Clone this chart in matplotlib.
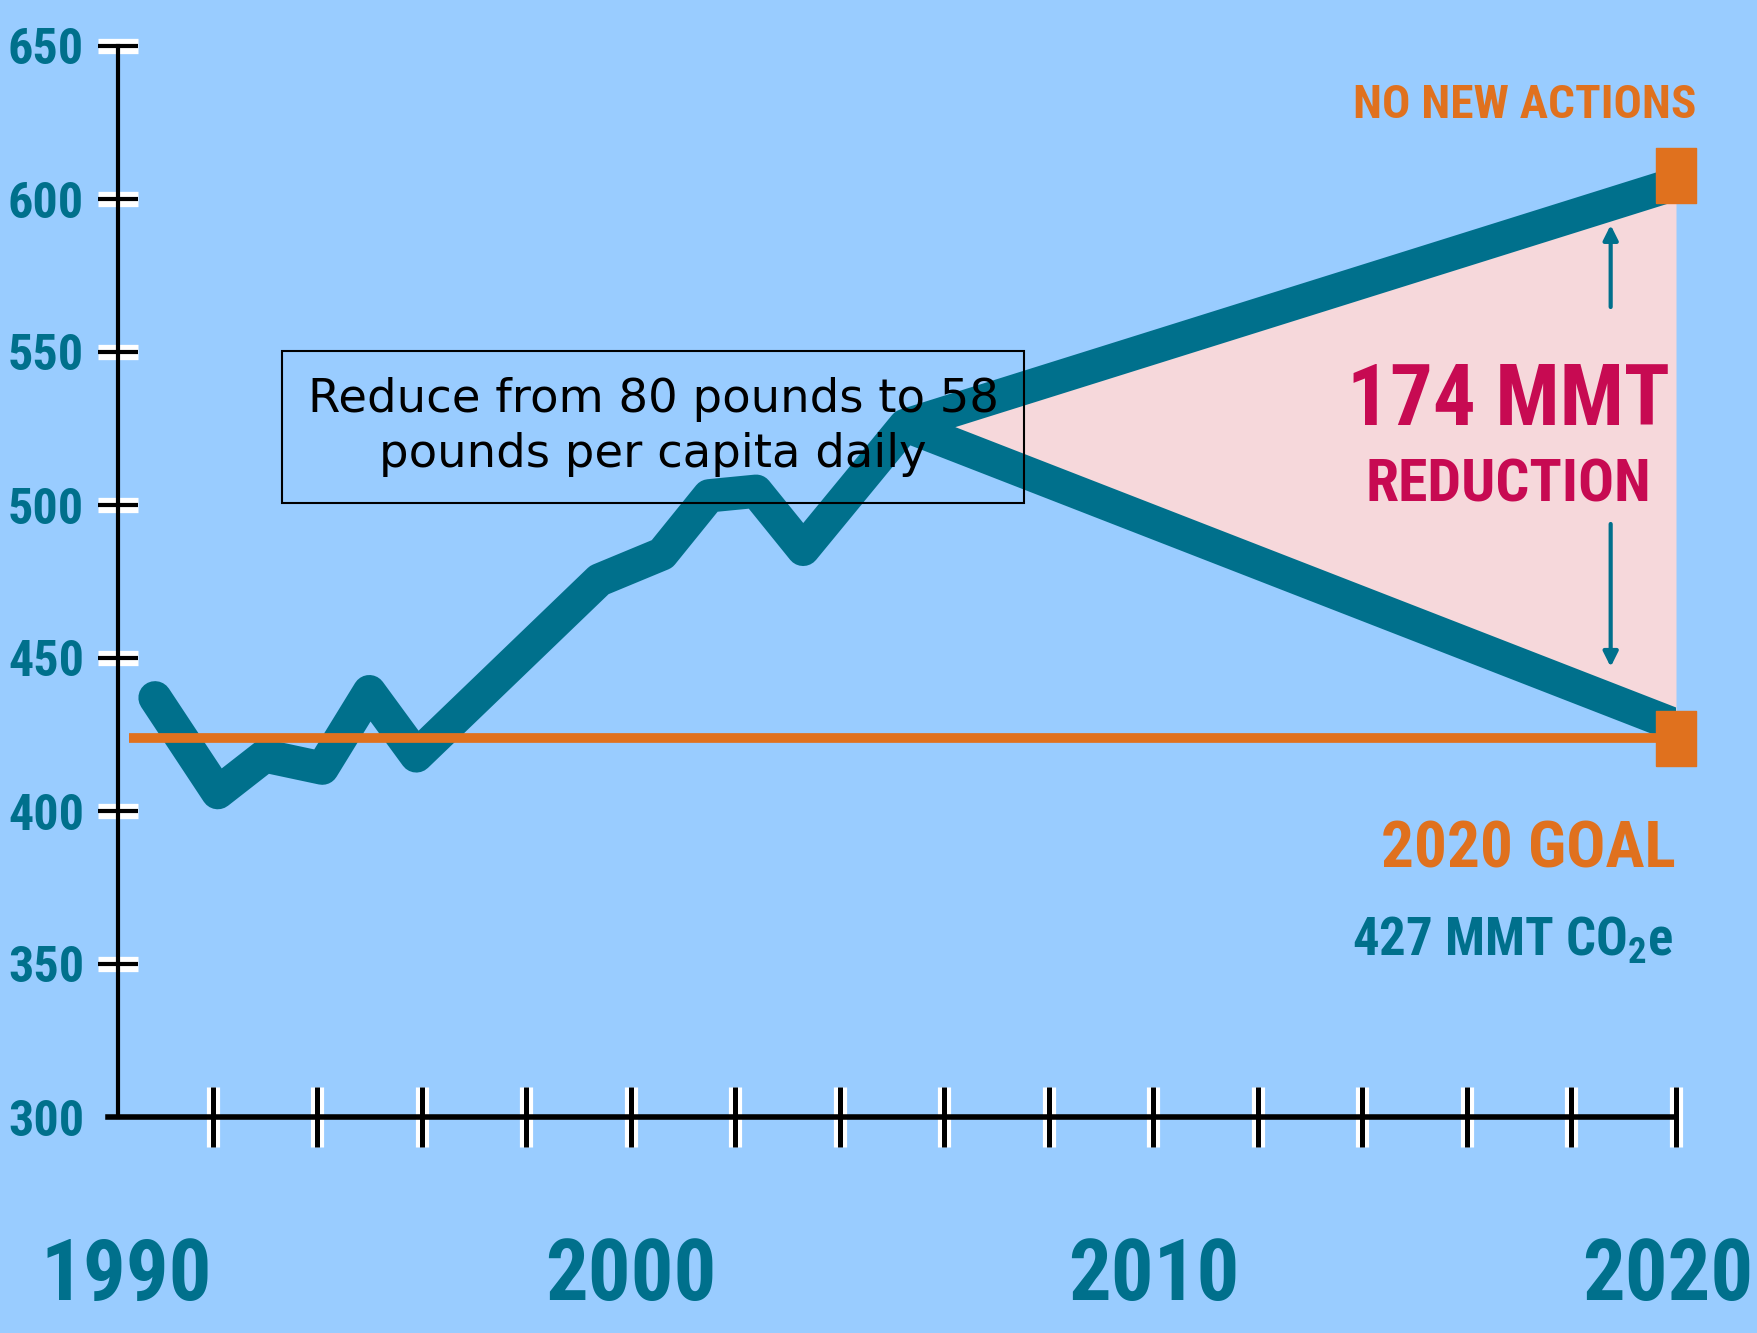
import matplotlib
matplotlib.use("Agg")
import matplotlib.pyplot as plt
from matplotlib import font_manager as fm
from matplotlib import transforms
import numpy as np

# colours
BG = "#99CCFF"
TEAL = "#00708C"
ORANGE = "#E0711E"
PINK = "#F6D8DB"
CRIMSON = "#C70A52"

# pick a narrow bold face for the poster-style lettering
names = {f.name for f in fm.fontManager.ttflist}
COND = "DejaVu Sans"
for cand in ["Roboto Condensed", "Liberation Sans Narrow", "Open Sans Condensed", "DejaVu Sans Condensed"]:
    if cand in names:
        COND = cand
        break
plt.rcParams["mathtext.default"] = "regular"

# data (MMT CO2e)
hist_years = [1990.9, 1992.1, 1993.0, 1994.1, 1995.0, 1995.9, 1999.4,
              2000.6, 2001.5, 2002.4, 2003.3, 2005.25]
hist_vals = [437, 406, 418, 414, 439, 418, 475.5, 484, 503, 504.5, 485.5, 526]
proj_years = [2005.25, 2020]
no_action_vals = [526, 605]
goal_path_vals = [526, 428]
goal_value = 424
goal_line_years = [1990.4, 2020]
marker_vals = [608, 424]

y_ticks = [300, 350, 400, 450, 500, 550, 600, 650]
x_ticks = list(range(1990, 2021, 2))
decades = [1990, 2000, 2010, 2020]

fig = plt.figure(figsize=(17.58, 13.33), dpi=100, facecolor=BG)
ax = fig.add_axes([108/1758, (1333-1117)/1333, (1676-108)/1758, (1117-46)/1333])
ax.set_facecolor(BG)
ax.set_xlim(1990, 2020)
ax.set_ylim(300, 650)
ax.set_axisbelow(False)

# shaded gap between the two projections
ax.fill_between(proj_years, goal_path_vals, no_action_vals, color=PINK, lw=0, zorder=1)

lw = 24
ax.plot(hist_years + proj_years[1:], hist_vals + no_action_vals[1:], color=TEAL, lw=lw,
        solid_joinstyle="round", solid_capstyle="round", zorder=2)
ax.plot(proj_years, goal_path_vals, color=TEAL, lw=lw,
        solid_joinstyle="round", solid_capstyle="butt", zorder=2)
ax.plot(goal_line_years, [goal_value + 0.9, goal_value + 0.9], color="#AEB4C4", lw=2.5,
        solid_capstyle="butt", zorder=3)
ax.plot(goal_line_years, [goal_value, goal_value], color=ORANGE, lw=7,
        solid_capstyle="butt", zorder=3)

rect = [(-0.71, -1), (0.71, -1), (0.71, 1), (-0.71, 1), (-0.71, -1)]
ax.plot([2020, 2020], marker_vals, ls="none", marker=rect, ms=39.6,
        color=ORANGE, mec=ORANGE, zorder=4, clip_on=False)

# axes lines
for s in ["top", "right"]:
    ax.spines[s].set_visible(False)
ax.spines["left"].set_position(("data", 1990.2))
ax.spines["left"].set_bounds(300, 650)
ax.spines["left"].set_linewidth(3)
ax.spines["bottom"].set_bounds(1990, 2020)
ax.spines["bottom"].set_linewidth(4)

ax.set_yticks(y_ticks)
ax.set_yticklabels([str(v) for v in y_ticks], fontfamily=COND, fontweight="bold",
                   fontsize=36, color=TEAL)
ax.tick_params(axis="y", direction="inout", length=29.5, width=3, color="black", pad=10)
ax.yaxis.get_major_ticks()[0].tick1line.set_visible(False)

ax.set_xticks(x_ticks)
ax.set_xticklabels([str(y) if y in decades else "" for y in x_ticks], fontfamily=COND,
                   fontweight="bold", fontsize=61, color=TEAL)
ax.tick_params(axis="x", direction="inout", length=43, width=3.6, color="black", pad=64)
xt = ax.xaxis.get_major_ticks()
xt[0].tick1line.set_visible(False)
# first and last year labels sit a little inward, as in the poster
xt[0].label1.set_transform(xt[0].label1.get_transform() +
                           transforms.ScaledTranslation(0.18, 0, fig.dpi_scale_trans))
xt[-1].label1.set_transform(xt[-1].label1.get_transform() +
                            transforms.ScaledTranslation(-0.08, 0, fig.dpi_scale_trans))

# white halo behind tick marks
ax.plot(np.full(len(y_ticks) - 1, 1990.2), y_ticks[1:], ls="none", marker="_", ms=29.5,
        mew=11, color="white", zorder=2.3, clip_on=False)
ax.plot(x_ticks[1:], np.full(len(x_ticks) - 1, 300), ls="none", marker="|", ms=43,
        mew=9.5, color="white", zorder=2.3, clip_on=False)

# annotations
ax.text(2017.1, 626.5, "NO NEW ACTIONS", ha="center", va="baseline", color=ORANGE,
        fontfamily=COND, fontweight="bold", fontsize=34)
ax.text(2016.8, 526, "174 MMT", ha="center", va="baseline", color=CRIMSON,
        fontfamily=COND, fontweight="bold", fontsize=61)
ax.text(2016.8, 501, "REDUCTION", ha="center", va="baseline", color=CRIMSON,
        fontfamily=COND, fontweight="bold", fontsize=43)
ax.text(2020.0, 381.4, "2020 GOAL", ha="right", va="baseline", color=ORANGE,
        fontfamily=COND, fontweight="bold", fontsize=47, clip_on=False)
ax.text(2019.95, 352.9, "427 MMT CO$_2$e", ha="right", va="baseline", color=TEAL,
        fontfamily=COND, fontweight="bold", fontsize=38, clip_on=False)

arrow = dict(arrowstyle="-|>", color=TEAL, lw=3, mutation_scale=22, shrinkA=0, shrinkB=0)
ax.annotate("", xy=(2018.75, 591.5), xytext=(2018.75, 564.7), arrowprops=arrow, zorder=3)
ax.annotate("", xy=(2018.75, 447.1), xytext=(2018.75, 493.8), arrowprops=arrow, zorder=3)

fig.text(653/1758, 1 - 427/1333, "Reduce from 80 pounds to 58\npounds per capita daily",
         ha="center", va="center", fontsize=33.5, fontfamily="DejaVu Sans", color="black",
         linespacing=1.3, zorder=6,
         bbox=dict(boxstyle="square,pad=0.55", fc="none", ec="black", lw=1.5))

fig.savefig("out.png", dpi=100, facecolor=BG)
